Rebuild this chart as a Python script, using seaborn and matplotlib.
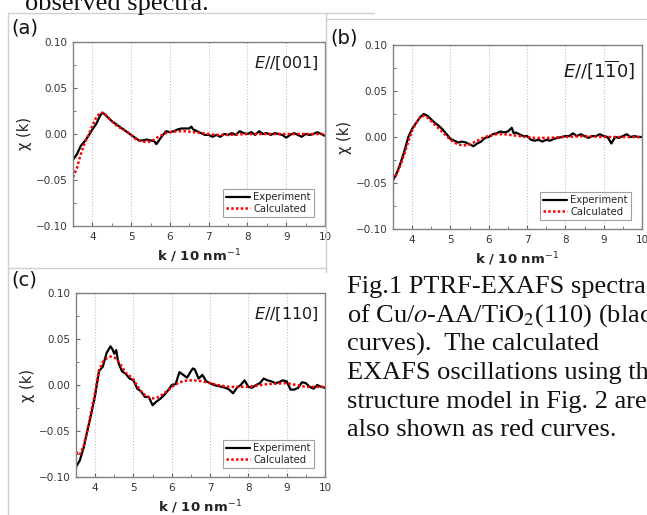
import matplotlib
matplotlib.use("Agg")
import matplotlib.pyplot as plt
from matplotlib.lines import Line2D
from matplotlib.ticker import MultipleLocator, FixedLocator, FixedFormatter
import seaborn as sns

# shared k grid for the noisy tail of the spectra (k = 7.0 ... 10.0)
k_tail = [7.0, 7.1, 7.2, 7.3, 7.4, 7.5, 7.6, 7.7, 7.8, 7.9,
          8.0, 8.1, 8.2, 8.3, 8.4, 8.5, 8.6, 8.7, 8.8, 8.9,
          9.0, 9.1, 9.2, 9.3, 9.4, 9.5, 9.6, 9.7, 9.8, 9.9, 10.0]

# grid for the smooth calculated curves
k_calc = [3.5, 3.6, 3.7, 3.8, 3.9, 4.0, 4.1, 4.2, 4.3, 4.4, 4.5, 4.6, 4.7,
          4.8, 4.9, 5.0, 5.1, 5.2, 5.3, 5.4, 5.5, 5.6, 5.7, 5.8, 5.9, 6.0,
          6.2, 6.4, 6.6, 6.8, 7.0, 7.2, 7.5, 8.0, 8.5, 9.0, 9.5, 10.0]

# (a) E//[001]
k_a_exp = [3.5, 3.6, 3.7, 3.8, 3.9, 4.0, 4.1, 4.2, 4.25, 4.3, 4.4, 4.5, 4.6,
           4.7, 4.8, 4.9, 5.0, 5.1, 5.2, 5.3, 5.4, 5.5, 5.6, 5.65, 5.7, 5.8,
           5.9, 6.0, 6.1, 6.2, 6.3, 6.4, 6.5, 6.55, 6.6, 6.7, 6.8, 6.9] + k_tail
chi_a_exp = [-0.028, -0.022, -0.013, -0.008, -0.002, 0.005, 0.011, 0.020, 0.023,
             0.022, 0.018, 0.014, 0.011, 0.008, 0.005, 0.002, -0.001, -0.004,
             -0.007, -0.007, -0.006, -0.007, -0.008, -0.011, -0.008, -0.002,
             0.003, 0.002, 0.003, 0.005, 0.006, 0.006, 0.006, 0.008, 0.005,
             0.003, 0.001, -0.001,
             -0.001, -0.003, -0.001, -0.003, 0.000, -0.001, 0.001, -0.001, 0.003, 0.001,
             0.000, 0.002, -0.001, 0.003, 0.000, 0.001, -0.001, 0.001, 0.000, -0.001,
             -0.004, -0.001, 0.001, -0.001, -0.003, 0.000, -0.001, 0.000, 0.002, 0.000,
             -0.002]
chi_a_calc = [-0.047, -0.037, -0.022, -0.010, -0.001, 0.009, 0.018, 0.023, 0.023,
              0.018, 0.014, 0.010, 0.007, 0.005, 0.002, -0.001, -0.005, -0.007,
              -0.008, -0.009, -0.008, -0.006, -0.003, -0.001, 0.001, 0.002,
              0.003, 0.003, 0.002, 0.001, 0.000, -0.001,
              -0.001, 0.000, 0.000, 0.000, 0.000, 0.000]

# (b) E//[1-10]
k_b_exp = [3.5, 3.6, 3.7, 3.8, 3.9, 4.0, 4.1, 4.2, 4.3, 4.35, 4.4, 4.5, 4.6,
           4.7, 4.8, 4.9, 5.0, 5.1, 5.2, 5.3, 5.4, 5.5, 5.6, 5.7, 5.8, 5.9,
           6.0, 6.1, 6.2, 6.3, 6.4, 6.5, 6.6, 6.65, 6.7, 6.8, 6.9] + k_tail
chi_b_exp = [-0.047, -0.039, -0.028, -0.015, 0.000, 0.009, 0.015, 0.021, 0.025,
             0.024, 0.023, 0.019, 0.015, 0.012, 0.008, 0.003, -0.002, -0.004,
             -0.006, -0.005, -0.006, -0.008, -0.010, -0.007, -0.005, -0.001,
             0.000, 0.003, 0.004, 0.006, 0.005, 0.006, 0.010, 0.004, 0.005,
             0.003, 0.001,
             0.001, -0.003, -0.004, -0.003, -0.005, -0.003, -0.004, -0.002, -0.001, 0.000,
             0.001, 0.001, 0.004, 0.001, 0.003, 0.001, -0.001, 0.001, 0.001, 0.003,
             0.001, 0.000, -0.007, 0.000, -0.001, 0.001, 0.003, 0.000, 0.001, 0.000,
             0.000]
chi_b_calc = [-0.047, -0.040, -0.030, -0.018, -0.005, 0.007, 0.015, 0.021, 0.023,
              0.021, 0.017, 0.013, 0.009, 0.005, 0.001, -0.003, -0.006, -0.008,
              -0.009, -0.009, -0.008, -0.006, -0.004, -0.002, 0.000, 0.001,
              0.003, 0.003, 0.002, 0.001, 0.000, -0.001,
              -0.001, 0.000, 0.001, 0.000, 0.000, 0.000]

# (c) E//[110]
k_c_exp = [3.5, 3.6, 3.7, 3.8, 3.9, 4.0, 4.1, 4.2, 4.3, 4.4, 4.45, 4.5, 4.55,
           4.6, 4.7, 4.8, 4.9, 5.0, 5.1, 5.2, 5.3, 5.4, 5.5, 5.6, 5.7, 5.8,
           5.9, 6.0, 6.1, 6.2, 6.3, 6.4, 6.5, 6.55, 6.6, 6.7, 6.8, 6.9] + k_tail
chi_c_exp = [-0.089, -0.082, -0.068, -0.049, -0.031, -0.011, 0.015, 0.020, 0.035,
             0.042, 0.039, 0.034, 0.038, 0.025, 0.015, 0.012, 0.007, 0.005,
             -0.004, -0.007, -0.013, -0.013, -0.022, -0.018, -0.015, -0.011,
             -0.006, 0.000, 0.001, 0.014, 0.011, 0.008, 0.015, 0.018, 0.017,
             0.007, 0.011, 0.004,
             0.002, 0.000, -0.001, -0.002, -0.003, -0.005, -0.009, -0.003, 0.000, 0.005,
             -0.002, -0.003, 0.000, 0.002, 0.007, 0.005, 0.004, 0.002, 0.003, 0.005,
             0.004, -0.005, -0.005, -0.003, 0.003, 0.002, -0.002, -0.004, 0.000, -0.002,
             -0.003]
chi_c_calc = [-0.073, -0.076, -0.066, -0.049, -0.028, -0.008, 0.016, 0.025, 0.029,
              0.031, 0.030, 0.026, 0.020, 0.013, 0.010, 0.006, -0.001, -0.007,
              -0.011, -0.013, -0.0145, -0.014, -0.012, -0.009, -0.006, -0.002,
              0.003, 0.005, 0.005, 0.004, 0.002, 0.000,
              -0.002, -0.002, 0.001, 0.002, -0.002, -0.002]

panel_labels = ["(a)", "(b)", "(c)"]
orient_labels = [r"$E$//[001]", r"$E$//[1$\overline{1}$0]", r"$E$//[110]"]
series_names = ["Experiment", "Calculated"]
x_ticks = [4, 5, 6, 7, 8, 9, 10]
y_ticks = [-0.10, -0.05, 0.00, 0.05, 0.10]
y_ticklabels = ["\u22120.10", "\u22120.05", "0.00", "0.05", "0.10"]

caption = ["Fig.1 PTRF-EXAFS spectra",
           r"of Cu/$\it{o}$-AA/Ti$\mathrm{O}_2$(110) (black",
           "curves).  The calculated",
           "EXAFS oscillations using the",
           "structure model in Fig. 2 are",
           "also shown as red curves."]

sns.set_style("ticks")
plt.rcParams["font.family"] = ["DejaVu Sans"]

W, H = 647, 515
fig = plt.figure(figsize=(W / 100, H / 100), dpi=100)


def px_axes(left, top, right, bottom):
    return fig.add_axes([left / W, 1 - bottom / H, (right - left) / W, (bottom - top) / H])


boxes = [(73, 42, 325, 226), (393, 45, 642, 229), (76, 293, 325, 477)]
label_pos = [(11, 18), (330, 28), (11, 271)]
orient_size = [11.5, 13, 11.5]
data = [(k_a_exp, chi_a_exp, chi_a_calc),
        (k_b_exp, chi_b_exp, chi_b_calc),
        (k_c_exp, chi_c_exp, chi_c_calc)]

# light frames of the pasted panel images
frame_col = "#cfcfcf"
for (x0, y0, x1, y1) in [(8, 13, 374, 13), (326, 19, 647, 19), (8, 13, 8, 515),
                         (326, 13, 326, 272), (8, 268, 326, 268)]:
    fig.add_artist(Line2D([x0 / W, x1 / W], [1 - y0 / H, 1 - y1 / H],
                          transform=fig.transFigure, color=frame_col, lw=1.0))

for i, (box, (k_exp, chi_exp, chi_calc)) in enumerate(zip(boxes, data)):
    ax = px_axes(*box)
    sns.lineplot(x=k_exp, y=chi_exp, ax=ax, color="black", lw=1.6,
                 estimator=None, label=series_names[0])
    sns.lineplot(x=k_calc, y=chi_calc, ax=ax, color="red", lw=1.8,
                 linestyle=(0, (1, 0.9)), estimator=None, label=series_names[1])
    ax.set_xlim(3.5, 10)
    ax.set_ylim(-0.1, 0.1)
    ax.xaxis.set_major_locator(FixedLocator(x_ticks))
    ax.xaxis.set_minor_locator(MultipleLocator(0.5))
    ax.yaxis.set_major_locator(FixedLocator(y_ticks))
    ax.yaxis.set_major_formatter(FixedFormatter(y_ticklabels))
    ax.yaxis.set_minor_locator(MultipleLocator(0.025))
    ax.tick_params(which="major", direction="in", length=3, width=0.8,
                   color="#666666", labelcolor="#333333", labelsize=7.5, pad=4)
    ax.tick_params(which="minor", direction="in", length=2, width=0.6, color="#666666")
    ax.grid(axis="x", which="major", ls=":", color="#c0c0c0", lw=0.8)
    for sp in ax.spines.values():
        sp.set_color("#808080")
        sp.set_linewidth(1.0)
    ax.set_xlabel(r"k / 10 nm$^{-1}$", fontsize=9.5, fontweight="bold", color="#222222", labelpad=4)
    ax.set_ylabel("\u03c7 (k)", fontsize=10.5, color="#222222", labelpad=3)
    ax.text(0.975, 0.93, orient_labels[i], transform=ax.transAxes, ha="right", va="top",
            fontsize=orient_size[i], color="#1a1a1a", math_fontfamily="dejavusans")
    leg = ax.legend(loc="lower right", bbox_to_anchor=(0.955, 0.05), borderaxespad=0,
                    fontsize=7.2, frameon=True, fancybox=False, edgecolor="#888888",
                    handlelength=2.4, handletextpad=0.3, borderpad=0.3, labelspacing=0.15)
    leg.get_frame().set_linewidth(0.8)
    lx, ly = label_pos[i]
    fig.text(lx / W, 1 - ly / H, panel_labels[i], ha="left", va="top", fontsize=14, color="#111111")

# surrounding document text
fig.text(25 / W, 1 - 10 / H, "observed spectra.", ha="left", va="baseline",
         fontsize=19, family="Liberation Serif", color="#111111")
for j, line in enumerate(caption):
    fig.text(347 / W, 1 - (293 + 28.7 * j) / H, line, ha="left", va="baseline",
             fontsize=19, family="Liberation Serif", color="#111111", math_fontfamily="stix")

fig.savefig("out.png", dpi=100)
